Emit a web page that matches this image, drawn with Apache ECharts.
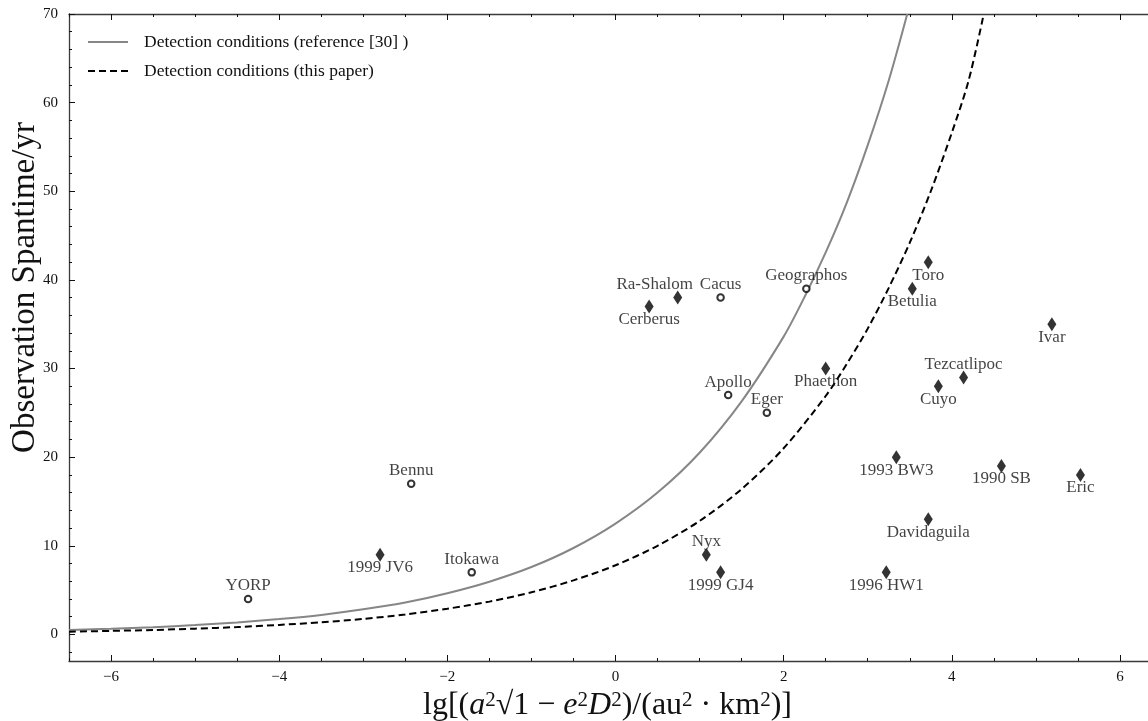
<!DOCTYPE html>
<html>
<head>
<meta charset="utf-8">
<script src="https://cdn.jsdelivr.net/npm/echarts@6/dist/echarts.min.js"></script>
<style>
html, body { margin: 0; padding: 0; background: #fff; }
#main { width: 1148px; height: 721px; }
</style>
</head>
<body>
<div id="main"></div>
<script>
// detection condition curves
var refX = [-6.5, -6, -5.5, -5, -4.5, -4, -3.5, -3, -2.5, -2, -1.5, -1, -0.5, 0, 0.5, 1, 1.5, 2, 2.25, 2.5, 2.75, 3, 3.25, 3.47];
var refY = [0.5, 0.64, 0.82, 1.05, 1.35, 1.73, 2.2, 2.83, 3.6, 4.65, 5.95, 7.6, 9.75, 12.5, 16, 20.5, 26.3, 33.6, 38.1, 43.1, 48.7, 55.2, 62.5, 70];
var paperX = [-6.5, -6, -5.5, -5, -4.5, -4, -3.5, -3, -2.5, -2, -1.5, -1, -0.5, 0, 0.5, 1, 1.5, 2, 2.5, 2.75, 3, 3.25, 3.5, 3.75, 4, 4.2, 4.38];
var paperY = [0.3, 0.4, 0.5, 0.65, 0.83, 1.07, 1.37, 1.75, 2.25, 2.9, 3.7, 4.75, 6.1, 7.8, 10, 12.8, 16.4, 21, 26.9, 30.5, 34.5, 39.1, 44.2, 50, 56.6, 62.5, 70];

// asteroids drawn as open circles
var circleNames = ['YORP', 'Bennu', 'Itokawa', 'Cacus', 'Apollo', 'Eger', 'Geographos'];
var circleX = [-4.37, -2.43, -1.71, 1.25, 1.34, 1.80, 2.27];
var circleY = [4, 17, 7, 38, 27, 25, 39];
var circleLabelPos = ['top', 'top', 'top', 'top', 'top', 'top', 'top'];

// asteroids drawn as filled diamonds
var diamondNames = ['1999 JV6', 'Cerberus', 'Ra-Shalom', 'Phaethon', 'Nyx', '1999 GJ4', '1996 HW1', 'Davidaguila',
  '1993 BW3', 'Betulia', 'Toro', 'Cuyo', 'Tezcatlipoc', '1990 SB', 'Ivar', 'Eric'];
var diamondX = [-2.80, 0.40, 0.74, 2.50, 1.08, 1.25, 3.22, 3.72, 3.34, 3.53, 3.72, 3.84, 4.14, 4.59, 5.19, 5.53];
var diamondY = [9, 37, 38, 30, 9, 7, 7, 13, 20, 39, 42, 28, 29, 19, 35, 18];
var diamondLabelPos = ['bottom', 'bottom', 'top', 'bottom', 'top', 'bottom', 'bottom', 'bottom',
  'bottom', 'bottom', 'bottom', 'bottom', 'top', 'bottom', 'bottom', 'bottom'];

var xTickLabels = [-6, -4, -2, 0, 2, 4, 6];
var yTickLabels = [0, 10, 20, 30, 40, 50, 60, 70];

var serif = '"Liberation Serif", "DejaVu Serif", serif';
var ink = '#111';
var frame = '#3a3a3a';
// the Ra-Shalom label sits left of its marker in the original
var labelShiftX = { 'Ra-Shalom': -23 };

var xMinor = [];
for (var v = -6.5; v <= 6.5; v += 0.5) xMinor.push(v);
var yMinor = [];
for (var w = -2; w <= 70; w += 2) yMinor.push(w);

function zip(xs, ys) {
  return xs.map(function (x, i) { return [x, ys[i]]; });
}

function points(names, xs, ys, pos) {
  return names.map(function (n, i) {
    return {
      name: n,
      value: [xs[i], ys[i]],
      label: { offset: [labelShiftX[n] || 0, pos[i] === 'top' ? -13 : 13] }
    };
  });
}

function xAxisDef(position, ticks, len, showLine, showLabel) {
  return {
    type: 'value', min: -6.5, max: 6.5, position: position,
    axisLine: { show: showLine, onZero: false, lineStyle: { color: frame, width: 1.3 } },
    axisTick: { show: true, inside: true, length: len, customValues: ticks, lineStyle: { color: ink, width: 1 } },
    axisLabel: {
      show: showLabel, customValues: xTickLabels, margin: 9,
      fontFamily: serif, fontSize: 15, color: ink,
      formatter: function (v) { return v < 0 ? '\u2212' + (-v) : String(v); }
    },
    splitLine: { show: false }
  };
}

function yAxisDef(ticks, len, showLabel) {
  return {
    type: 'value', min: -3, max: 70, position: 'left',
    axisLine: { show: showLabel, onZero: false, lineStyle: { color: frame, width: 1.3 } },
    axisTick: { show: true, inside: true, length: len, customValues: ticks, lineStyle: { color: ink, width: 1 } },
    axisLabel: { show: showLabel, customValues: yTickLabels, margin: 11, fontFamily: serif, fontSize: 15, color: ink },
    splitLine: { show: false }
  };
}

var xMain = xAxisDef('bottom', xTickLabels, 6, true, true);
xMain.name = '{n|lg[(}{i|a}{s|2}{n|\u221A1 \u2212 }{i|e}{s|2}{i|D}{s|2}{n|)/(au}{s|2}{n| \u00B7 km}{s|2}{n|)]}';
xMain.nameLocation = 'middle';
xMain.nameGap = 19;
xMain.nameTextStyle = {
  padding: [0, 16, 0, 0],
  rich: {
    n: { fontFamily: serif, fontSize: 32, color: ink },
    i: { fontFamily: serif, fontSize: 32, fontStyle: 'italic', color: ink },
    s: { fontFamily: serif, fontSize: 21, color: ink, verticalAlign: 'top' }
  }
};

var yMain = yAxisDef(yTickLabels, 6, true);
yMain.name = 'Observation Spantime/yr';
yMain.nameLocation = 'middle';
yMain.nameGap = 27;
yMain.nameMoveOverlap = false;
yMain.nameTextStyle = { fontFamily: serif, fontSize: 33, color: ink, padding: [0, 0, 0, 100] };

var chart = echarts.init(document.getElementById('main'));
chart.setOption({
  animation: false,
  backgroundColor: '#fff',
  grid: { left: 69, right: -14, top: 14, bottom: 60, containLabel: false, outerBoundsMode: 'none' },
  legend: {
    orient: 'vertical', left: 82, top: 27,
    itemWidth: 40, itemHeight: 14, itemGap: 9,
    itemStyle: { opacity: 0 },
    textStyle: { fontFamily: serif, fontSize: 17.5, color: ink, lineHeight: 20, padding: [0, 0, 0, 11] },
    data: ['Detection conditions (reference [30] )', 'Detection conditions (this paper)']
  },
  xAxis: [
    xMain,
    xAxisDef('bottom', xMinor, 3, false, false),
    xAxisDef('top', xTickLabels, 6, true, false),
    xAxisDef('top', xMinor, 3, false, false)
  ],
  yAxis: [
    yMain,
    yAxisDef(yMinor, 3, false)
  ],
  series: [
    {
      name: 'Detection conditions (reference [30] )', type: 'line',
      data: zip(refX, refY), smooth: 0.3, symbol: 'none',
      lineStyle: { color: '#868686', width: 2 }, itemStyle: { color: '#868686' }, z: 2
    },
    {
      name: 'Detection conditions (this paper)', type: 'line',
      data: zip(paperX, paperY), smooth: 0.3, symbol: 'none',
      lineStyle: { color: '#000', width: 2, type: [7, 4] }, itemStyle: { color: '#000' }, z: 2
    },
    {
      type: 'scatter', symbol: 'circle', symbolSize: 6.5, z: 3,
      itemStyle: { color: '#fff', borderColor: '#000', borderWidth: 2 },
      label: { show: true, position: 'inside', formatter: '{b}', fontFamily: serif, fontSize: 17, color: ink, textBorderWidth: 0 },
      data: points(circleNames, circleX, circleY, circleLabelPos)
    },
    {
      type: 'scatter', symbol: 'diamond', symbolSize: [9, 14], z: 3,
      itemStyle: { color: '#000' },
      label: { show: true, position: 'inside', formatter: '{b}', fontFamily: serif, fontSize: 17, color: ink, textBorderWidth: 0 },
      data: points(diamondNames, diamondX, diamondY, diamondLabelPos)
    }
  ]
});
</script>
</body>
</html>
